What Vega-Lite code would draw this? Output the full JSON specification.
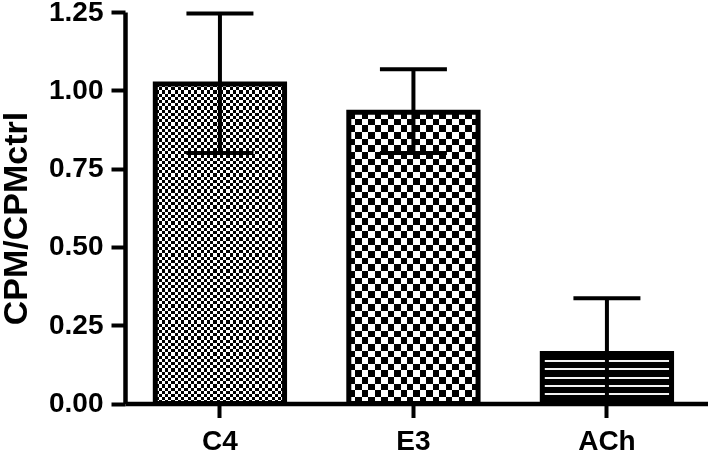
{
  "$schema": "https://vega.github.io/schema/vega-lite/v6.json",
  "width": 583,
  "height": 391.5,
  "autosize": {"type": "none"},
  "padding": {"left": 125, "top": 12, "right": 0, "bottom": 50.5},
  "background": "white",
  "config": {
    "view": {"stroke": null},
    "font": "Liberation Sans",
    "axisY": {
      "grid": false,
      "domainColor": "#000",
      "domainWidth": 4.5,
      "tickColor": "#000",
      "tickWidth": 4,
      "tickSize": 14,
      "labelFont": "Liberation Sans",
      "labelFontWeight": "bold",
      "labelFontSize": 28,
      "labelColor": "#000",
      "labelPadding": 8,
      "titleFont": "Liberation Sans",
      "titleFontWeight": "bold",
      "titleFontSize": 34,
      "titleColor": "#000",
      "titleAngle": -90,
      "titleX": -98.5,
      "titleY": 206,
      "titleAlign": "center",
      "titleBaseline": "alphabetic"
    }
  },
  "data": {
    "values": [
      {"group": "C4", "mean": 1.02, "low": 0.80, "high": 1.245},
      {"group": "E3", "mean": 0.93, "low": 0.80, "high": 1.067},
      {"group": "ACh", "mean": 0.16, "low": 0.0, "high": 0.336}
    ]
  },
  "encoding": {
    "x": {
      "field": "group",
      "type": "nominal",
      "scale": {"domain": ["C4", "E3", "ACh"], "paddingInner": 0.332, "paddingOuter": 0.1725, "align": 0.454},
      "axis": {
        "title": null,
        "labelAngle": 0,
        "domainColor": "#000",
        "domainWidth": 4.5,
        "tickColor": "#000",
        "tickWidth": 4,
        "tickSize": 14,
        "labelFont": "Liberation Sans",
        "labelFontWeight": "bold",
        "labelFontSize": 28,
        "labelColor": "#000",
        "labelPadding": 9.5
      }
    },
    "y": {
      "field": "mean",
      "type": "quantitative",
      "scale": {"domain": [0, 1.25], "nice": false},
      "axis": {"title": "CPM/CPMctrl", "values": [0, 0.25, 0.5, 0.75, 1, 1.25], "format": ".2f"}
    }
  },
  "layer": [
    {
      "transform": [{"filter": "datum.group === 'C4'"}],
      "mark": {"type": "bar", "stroke": null, "fill": {"gradient": "linear", "x1": 0, "y1": 0, "x2": 1, "y2": 0, "stops": [{"offset":0,"color":"#fff"},{"offset":0.025,"color":"#fff"},{"offset":0.025,"color":"#000"},{"offset":0.05,"color":"#000"},{"offset":0.05,"color":"#fff"},{"offset":0.075,"color":"#fff"},{"offset":0.075,"color":"#000"},{"offset":0.1,"color":"#000"},{"offset":0.1,"color":"#fff"},{"offset":0.125,"color":"#fff"},{"offset":0.125,"color":"#000"},{"offset":0.15,"color":"#000"},{"offset":0.15,"color":"#fff"},{"offset":0.175,"color":"#fff"},{"offset":0.175,"color":"#000"},{"offset":0.2,"color":"#000"},{"offset":0.2,"color":"#fff"},{"offset":0.225,"color":"#fff"},{"offset":0.225,"color":"#000"},{"offset":0.25,"color":"#000"},{"offset":0.25,"color":"#fff"},{"offset":0.275,"color":"#fff"},{"offset":0.275,"color":"#000"},{"offset":0.3,"color":"#000"},{"offset":0.3,"color":"#fff"},{"offset":0.325,"color":"#fff"},{"offset":0.325,"color":"#000"},{"offset":0.35,"color":"#000"},{"offset":0.35,"color":"#fff"},{"offset":0.375,"color":"#fff"},{"offset":0.375,"color":"#000"},{"offset":0.4,"color":"#000"},{"offset":0.4,"color":"#fff"},{"offset":0.425,"color":"#fff"},{"offset":0.425,"color":"#000"},{"offset":0.45,"color":"#000"},{"offset":0.45,"color":"#fff"},{"offset":0.475,"color":"#fff"},{"offset":0.475,"color":"#000"},{"offset":0.5,"color":"#000"},{"offset":0.5,"color":"#fff"},{"offset":0.525,"color":"#fff"},{"offset":0.525,"color":"#000"},{"offset":0.55,"color":"#000"},{"offset":0.55,"color":"#fff"},{"offset":0.575,"color":"#fff"},{"offset":0.575,"color":"#000"},{"offset":0.6,"color":"#000"},{"offset":0.6,"color":"#fff"},{"offset":0.625,"color":"#fff"},{"offset":0.625,"color":"#000"},{"offset":0.65,"color":"#000"},{"offset":0.65,"color":"#fff"},{"offset":0.675,"color":"#fff"},{"offset":0.675,"color":"#000"},{"offset":0.7,"color":"#000"},{"offset":0.7,"color":"#fff"},{"offset":0.725,"color":"#fff"},{"offset":0.725,"color":"#000"},{"offset":0.75,"color":"#000"},{"offset":0.75,"color":"#fff"},{"offset":0.775,"color":"#fff"},{"offset":0.775,"color":"#000"},{"offset":0.8,"color":"#000"},{"offset":0.8,"color":"#fff"},{"offset":0.825,"color":"#fff"},{"offset":0.825,"color":"#000"},{"offset":0.85,"color":"#000"},{"offset":0.85,"color":"#fff"},{"offset":0.875,"color":"#fff"},{"offset":0.875,"color":"#000"},{"offset":0.9,"color":"#000"},{"offset":0.9,"color":"#fff"},{"offset":0.925,"color":"#fff"},{"offset":0.925,"color":"#000"},{"offset":0.95,"color":"#000"},{"offset":0.95,"color":"#fff"},{"offset":0.975,"color":"#fff"},{"offset":0.975,"color":"#000"},{"offset":1,"color":"#000"}]}}
    },
    {
      "transform": [{"filter": "datum.group === 'C4'"}],
      "mark": {"type": "bar", "stroke": null, "blend": "difference", "fill": {"gradient": "linear", "x1": 0, "y1": 0, "x2": 0, "y2": 1, "stops": [{"offset":0,"color":"#fff"},{"offset":0.01,"color":"#fff"},{"offset":0.01,"color":"#000"},{"offset":0.02,"color":"#000"},{"offset":0.02,"color":"#fff"},{"offset":0.03,"color":"#fff"},{"offset":0.03,"color":"#000"},{"offset":0.04,"color":"#000"},{"offset":0.04,"color":"#fff"},{"offset":0.05,"color":"#fff"},{"offset":0.05,"color":"#000"},{"offset":0.06,"color":"#000"},{"offset":0.06,"color":"#fff"},{"offset":0.07,"color":"#fff"},{"offset":0.07,"color":"#000"},{"offset":0.08,"color":"#000"},{"offset":0.08,"color":"#fff"},{"offset":0.09,"color":"#fff"},{"offset":0.09,"color":"#000"},{"offset":0.1,"color":"#000"},{"offset":0.1,"color":"#fff"},{"offset":0.11,"color":"#fff"},{"offset":0.11,"color":"#000"},{"offset":0.12,"color":"#000"},{"offset":0.12,"color":"#fff"},{"offset":0.13,"color":"#fff"},{"offset":0.13,"color":"#000"},{"offset":0.14,"color":"#000"},{"offset":0.14,"color":"#fff"},{"offset":0.15,"color":"#fff"},{"offset":0.15,"color":"#000"},{"offset":0.16,"color":"#000"},{"offset":0.16,"color":"#fff"},{"offset":0.17,"color":"#fff"},{"offset":0.17,"color":"#000"},{"offset":0.18,"color":"#000"},{"offset":0.18,"color":"#fff"},{"offset":0.19,"color":"#fff"},{"offset":0.19,"color":"#000"},{"offset":0.2,"color":"#000"},{"offset":0.2,"color":"#fff"},{"offset":0.21,"color":"#fff"},{"offset":0.21,"color":"#000"},{"offset":0.22,"color":"#000"},{"offset":0.22,"color":"#fff"},{"offset":0.23,"color":"#fff"},{"offset":0.23,"color":"#000"},{"offset":0.24,"color":"#000"},{"offset":0.24,"color":"#fff"},{"offset":0.25,"color":"#fff"},{"offset":0.25,"color":"#000"},{"offset":0.26,"color":"#000"},{"offset":0.26,"color":"#fff"},{"offset":0.27,"color":"#fff"},{"offset":0.27,"color":"#000"},{"offset":0.28,"color":"#000"},{"offset":0.28,"color":"#fff"},{"offset":0.29,"color":"#fff"},{"offset":0.29,"color":"#000"},{"offset":0.3,"color":"#000"},{"offset":0.3,"color":"#fff"},{"offset":0.31,"color":"#fff"},{"offset":0.31,"color":"#000"},{"offset":0.32,"color":"#000"},{"offset":0.32,"color":"#fff"},{"offset":0.33,"color":"#fff"},{"offset":0.33,"color":"#000"},{"offset":0.34,"color":"#000"},{"offset":0.34,"color":"#fff"},{"offset":0.35,"color":"#fff"},{"offset":0.35,"color":"#000"},{"offset":0.36,"color":"#000"},{"offset":0.36,"color":"#fff"},{"offset":0.37,"color":"#fff"},{"offset":0.37,"color":"#000"},{"offset":0.38,"color":"#000"},{"offset":0.38,"color":"#fff"},{"offset":0.39,"color":"#fff"},{"offset":0.39,"color":"#000"},{"offset":0.4,"color":"#000"},{"offset":0.4,"color":"#fff"},{"offset":0.41,"color":"#fff"},{"offset":0.41,"color":"#000"},{"offset":0.42,"color":"#000"},{"offset":0.42,"color":"#fff"},{"offset":0.43,"color":"#fff"},{"offset":0.43,"color":"#000"},{"offset":0.44,"color":"#000"},{"offset":0.44,"color":"#fff"},{"offset":0.45,"color":"#fff"},{"offset":0.45,"color":"#000"},{"offset":0.46,"color":"#000"},{"offset":0.46,"color":"#fff"},{"offset":0.47,"color":"#fff"},{"offset":0.47,"color":"#000"},{"offset":0.48,"color":"#000"},{"offset":0.48,"color":"#fff"},{"offset":0.49,"color":"#fff"},{"offset":0.49,"color":"#000"},{"offset":0.5,"color":"#000"},{"offset":0.5,"color":"#fff"},{"offset":0.51,"color":"#fff"},{"offset":0.51,"color":"#000"},{"offset":0.52,"color":"#000"},{"offset":0.52,"color":"#fff"},{"offset":0.53,"color":"#fff"},{"offset":0.53,"color":"#000"},{"offset":0.54,"color":"#000"},{"offset":0.54,"color":"#fff"},{"offset":0.55,"color":"#fff"},{"offset":0.55,"color":"#000"},{"offset":0.56,"color":"#000"},{"offset":0.56,"color":"#fff"},{"offset":0.57,"color":"#fff"},{"offset":0.57,"color":"#000"},{"offset":0.58,"color":"#000"},{"offset":0.58,"color":"#fff"},{"offset":0.59,"color":"#fff"},{"offset":0.59,"color":"#000"},{"offset":0.6,"color":"#000"},{"offset":0.6,"color":"#fff"},{"offset":0.61,"color":"#fff"},{"offset":0.61,"color":"#000"},{"offset":0.62,"color":"#000"},{"offset":0.62,"color":"#fff"},{"offset":0.63,"color":"#fff"},{"offset":0.63,"color":"#000"},{"offset":0.64,"color":"#000"},{"offset":0.64,"color":"#fff"},{"offset":0.65,"color":"#fff"},{"offset":0.65,"color":"#000"},{"offset":0.66,"color":"#000"},{"offset":0.66,"color":"#fff"},{"offset":0.67,"color":"#fff"},{"offset":0.67,"color":"#000"},{"offset":0.68,"color":"#000"},{"offset":0.68,"color":"#fff"},{"offset":0.69,"color":"#fff"},{"offset":0.69,"color":"#000"},{"offset":0.7,"color":"#000"},{"offset":0.7,"color":"#fff"},{"offset":0.71,"color":"#fff"},{"offset":0.71,"color":"#000"},{"offset":0.72,"color":"#000"},{"offset":0.72,"color":"#fff"},{"offset":0.73,"color":"#fff"},{"offset":0.73,"color":"#000"},{"offset":0.74,"color":"#000"},{"offset":0.74,"color":"#fff"},{"offset":0.75,"color":"#fff"},{"offset":0.75,"color":"#000"},{"offset":0.76,"color":"#000"},{"offset":0.76,"color":"#fff"},{"offset":0.77,"color":"#fff"},{"offset":0.77,"color":"#000"},{"offset":0.78,"color":"#000"},{"offset":0.78,"color":"#fff"},{"offset":0.79,"color":"#fff"},{"offset":0.79,"color":"#000"},{"offset":0.8,"color":"#000"},{"offset":0.8,"color":"#fff"},{"offset":0.81,"color":"#fff"},{"offset":0.81,"color":"#000"},{"offset":0.82,"color":"#000"},{"offset":0.82,"color":"#fff"},{"offset":0.83,"color":"#fff"},{"offset":0.83,"color":"#000"},{"offset":0.84,"color":"#000"},{"offset":0.84,"color":"#fff"},{"offset":0.85,"color":"#fff"},{"offset":0.85,"color":"#000"},{"offset":0.86,"color":"#000"},{"offset":0.86,"color":"#fff"},{"offset":0.87,"color":"#fff"},{"offset":0.87,"color":"#000"},{"offset":0.88,"color":"#000"},{"offset":0.88,"color":"#fff"},{"offset":0.89,"color":"#fff"},{"offset":0.89,"color":"#000"},{"offset":0.9,"color":"#000"},{"offset":0.9,"color":"#fff"},{"offset":0.91,"color":"#fff"},{"offset":0.91,"color":"#000"},{"offset":0.92,"color":"#000"},{"offset":0.92,"color":"#fff"},{"offset":0.93,"color":"#fff"},{"offset":0.93,"color":"#000"},{"offset":0.94,"color":"#000"},{"offset":0.94,"color":"#fff"},{"offset":0.95,"color":"#fff"},{"offset":0.95,"color":"#000"},{"offset":0.96,"color":"#000"},{"offset":0.96,"color":"#fff"},{"offset":0.97,"color":"#fff"},{"offset":0.97,"color":"#000"},{"offset":0.98,"color":"#000"},{"offset":0.98,"color":"#fff"},{"offset":0.99,"color":"#fff"},{"offset":0.99,"color":"#000"},{"offset":1,"color":"#000"}]}}
    },
    {
      "transform": [{"filter": "datum.group === 'E3'"}],
      "mark": {"type": "bar", "stroke": null, "fill": {"gradient": "linear", "x1": 0, "y1": 0, "x2": 1, "y2": 0, "stops": [{"offset":0,"color":"#fff"},{"offset":0.05,"color":"#fff"},{"offset":0.05,"color":"#000"},{"offset":0.1,"color":"#000"},{"offset":0.1,"color":"#fff"},{"offset":0.15,"color":"#fff"},{"offset":0.15,"color":"#000"},{"offset":0.2,"color":"#000"},{"offset":0.2,"color":"#fff"},{"offset":0.25,"color":"#fff"},{"offset":0.25,"color":"#000"},{"offset":0.3,"color":"#000"},{"offset":0.3,"color":"#fff"},{"offset":0.35,"color":"#fff"},{"offset":0.35,"color":"#000"},{"offset":0.4,"color":"#000"},{"offset":0.4,"color":"#fff"},{"offset":0.45,"color":"#fff"},{"offset":0.45,"color":"#000"},{"offset":0.5,"color":"#000"},{"offset":0.5,"color":"#fff"},{"offset":0.55,"color":"#fff"},{"offset":0.55,"color":"#000"},{"offset":0.6,"color":"#000"},{"offset":0.6,"color":"#fff"},{"offset":0.65,"color":"#fff"},{"offset":0.65,"color":"#000"},{"offset":0.7,"color":"#000"},{"offset":0.7,"color":"#fff"},{"offset":0.75,"color":"#fff"},{"offset":0.75,"color":"#000"},{"offset":0.8,"color":"#000"},{"offset":0.8,"color":"#fff"},{"offset":0.85,"color":"#fff"},{"offset":0.85,"color":"#000"},{"offset":0.9,"color":"#000"},{"offset":0.9,"color":"#fff"},{"offset":0.95,"color":"#fff"},{"offset":0.95,"color":"#000"},{"offset":1,"color":"#000"}]}}
    },
    {
      "transform": [{"filter": "datum.group === 'E3'"}],
      "mark": {"type": "bar", "stroke": null, "blend": "difference", "fill": {"gradient": "linear", "x1": 0, "y1": 0, "x2": 0, "y2": 1, "stops": [{"offset":0,"color":"#fff"},{"offset":0.0227,"color":"#fff"},{"offset":0.0227,"color":"#000"},{"offset":0.0455,"color":"#000"},{"offset":0.0455,"color":"#fff"},{"offset":0.0682,"color":"#fff"},{"offset":0.0682,"color":"#000"},{"offset":0.0909,"color":"#000"},{"offset":0.0909,"color":"#fff"},{"offset":0.1136,"color":"#fff"},{"offset":0.1136,"color":"#000"},{"offset":0.1364,"color":"#000"},{"offset":0.1364,"color":"#fff"},{"offset":0.1591,"color":"#fff"},{"offset":0.1591,"color":"#000"},{"offset":0.1818,"color":"#000"},{"offset":0.1818,"color":"#fff"},{"offset":0.2045,"color":"#fff"},{"offset":0.2045,"color":"#000"},{"offset":0.2273,"color":"#000"},{"offset":0.2273,"color":"#fff"},{"offset":0.25,"color":"#fff"},{"offset":0.25,"color":"#000"},{"offset":0.2727,"color":"#000"},{"offset":0.2727,"color":"#fff"},{"offset":0.2955,"color":"#fff"},{"offset":0.2955,"color":"#000"},{"offset":0.3182,"color":"#000"},{"offset":0.3182,"color":"#fff"},{"offset":0.3409,"color":"#fff"},{"offset":0.3409,"color":"#000"},{"offset":0.3636,"color":"#000"},{"offset":0.3636,"color":"#fff"},{"offset":0.3864,"color":"#fff"},{"offset":0.3864,"color":"#000"},{"offset":0.4091,"color":"#000"},{"offset":0.4091,"color":"#fff"},{"offset":0.4318,"color":"#fff"},{"offset":0.4318,"color":"#000"},{"offset":0.4545,"color":"#000"},{"offset":0.4545,"color":"#fff"},{"offset":0.4773,"color":"#fff"},{"offset":0.4773,"color":"#000"},{"offset":0.5,"color":"#000"},{"offset":0.5,"color":"#fff"},{"offset":0.5227,"color":"#fff"},{"offset":0.5227,"color":"#000"},{"offset":0.5455,"color":"#000"},{"offset":0.5455,"color":"#fff"},{"offset":0.5682,"color":"#fff"},{"offset":0.5682,"color":"#000"},{"offset":0.5909,"color":"#000"},{"offset":0.5909,"color":"#fff"},{"offset":0.6136,"color":"#fff"},{"offset":0.6136,"color":"#000"},{"offset":0.6364,"color":"#000"},{"offset":0.6364,"color":"#fff"},{"offset":0.6591,"color":"#fff"},{"offset":0.6591,"color":"#000"},{"offset":0.6818,"color":"#000"},{"offset":0.6818,"color":"#fff"},{"offset":0.7045,"color":"#fff"},{"offset":0.7045,"color":"#000"},{"offset":0.7273,"color":"#000"},{"offset":0.7273,"color":"#fff"},{"offset":0.75,"color":"#fff"},{"offset":0.75,"color":"#000"},{"offset":0.7727,"color":"#000"},{"offset":0.7727,"color":"#fff"},{"offset":0.7955,"color":"#fff"},{"offset":0.7955,"color":"#000"},{"offset":0.8182,"color":"#000"},{"offset":0.8182,"color":"#fff"},{"offset":0.8409,"color":"#fff"},{"offset":0.8409,"color":"#000"},{"offset":0.8636,"color":"#000"},{"offset":0.8636,"color":"#fff"},{"offset":0.8864,"color":"#fff"},{"offset":0.8864,"color":"#000"},{"offset":0.9091,"color":"#000"},{"offset":0.9091,"color":"#fff"},{"offset":0.9318,"color":"#fff"},{"offset":0.9318,"color":"#000"},{"offset":0.9545,"color":"#000"},{"offset":0.9545,"color":"#fff"},{"offset":0.9773,"color":"#fff"},{"offset":0.9773,"color":"#000"},{"offset":1,"color":"#000"}]}}
    },
    {
      "transform": [{"filter": "datum.group === 'ACh'"}],
      "mark": {"type": "bar", "stroke": null, "fill": {"gradient": "linear", "x1": 0, "y1": 0, "x2": 0, "y2": 1, "stops": [{"offset":0,"color":"#000"},{"offset":0.135,"color":"#000"},{"offset":0.135,"color":"#f2f2f2"},{"offset":0.175,"color":"#f2f2f2"},{"offset":0.175,"color":"#000"},{"offset":0.3,"color":"#000"},{"offset":0.3,"color":"#f2f2f2"},{"offset":0.34,"color":"#f2f2f2"},{"offset":0.34,"color":"#000"},{"offset":0.467,"color":"#000"},{"offset":0.467,"color":"#f2f2f2"},{"offset":0.507,"color":"#f2f2f2"},{"offset":0.507,"color":"#000"},{"offset":0.632,"color":"#000"},{"offset":0.632,"color":"#f2f2f2"},{"offset":0.672,"color":"#f2f2f2"},{"offset":0.672,"color":"#000"},{"offset":0.797,"color":"#000"},{"offset":0.797,"color":"#f2f2f2"},{"offset":0.837,"color":"#f2f2f2"},{"offset":0.837,"color":"#000"},{"offset":0.944,"color":"#000"},{"offset":0.944,"color":"#bbbbbb"},{"offset":0.975,"color":"#bbbbbb"},{"offset":0.975,"color":"#000"},{"offset":1,"color":"#000"}]}}
    },
    {
      "mark": {"type": "bar", "fill": "transparent", "stroke": "#000", "strokeWidth": 5}
    },
    {
      "mark": {"type": "rule", "color": "#000", "strokeWidth": 4},
      "encoding": {
        "y": {
          "field": "low",
          "type": "quantitative",
          "scale": {"domain": [0, 1.25], "nice": false},
          "axis": {"title": "CPM/CPMctrl", "values": [0, 0.25, 0.5, 0.75, 1, 1.25], "format": ".2f"}
        },
        "y2": {"field": "high"}
      }
    },
    {
      "mark": {"type": "tick", "color": "#000", "opacity": 1, "thickness": 4, "size": 67, "orient": "horizontal"},
      "encoding": {
        "y": {
          "field": "high",
          "type": "quantitative",
          "scale": {"domain": [0, 1.25], "nice": false},
          "axis": {"title": "CPM/CPMctrl", "values": [0, 0.25, 0.5, 0.75, 1, 1.25], "format": ".2f"}
        }
      }
    },
    {
      "mark": {"type": "tick", "color": "#000", "opacity": 1, "thickness": 4, "size": 67, "orient": "horizontal"},
      "encoding": {
        "y": {
          "field": "low",
          "type": "quantitative",
          "scale": {"domain": [0, 1.25], "nice": false},
          "axis": {"title": "CPM/CPMctrl", "values": [0, 0.25, 0.5, 0.75, 1, 1.25], "format": ".2f"}
        }
      }
    }
  ]
}
